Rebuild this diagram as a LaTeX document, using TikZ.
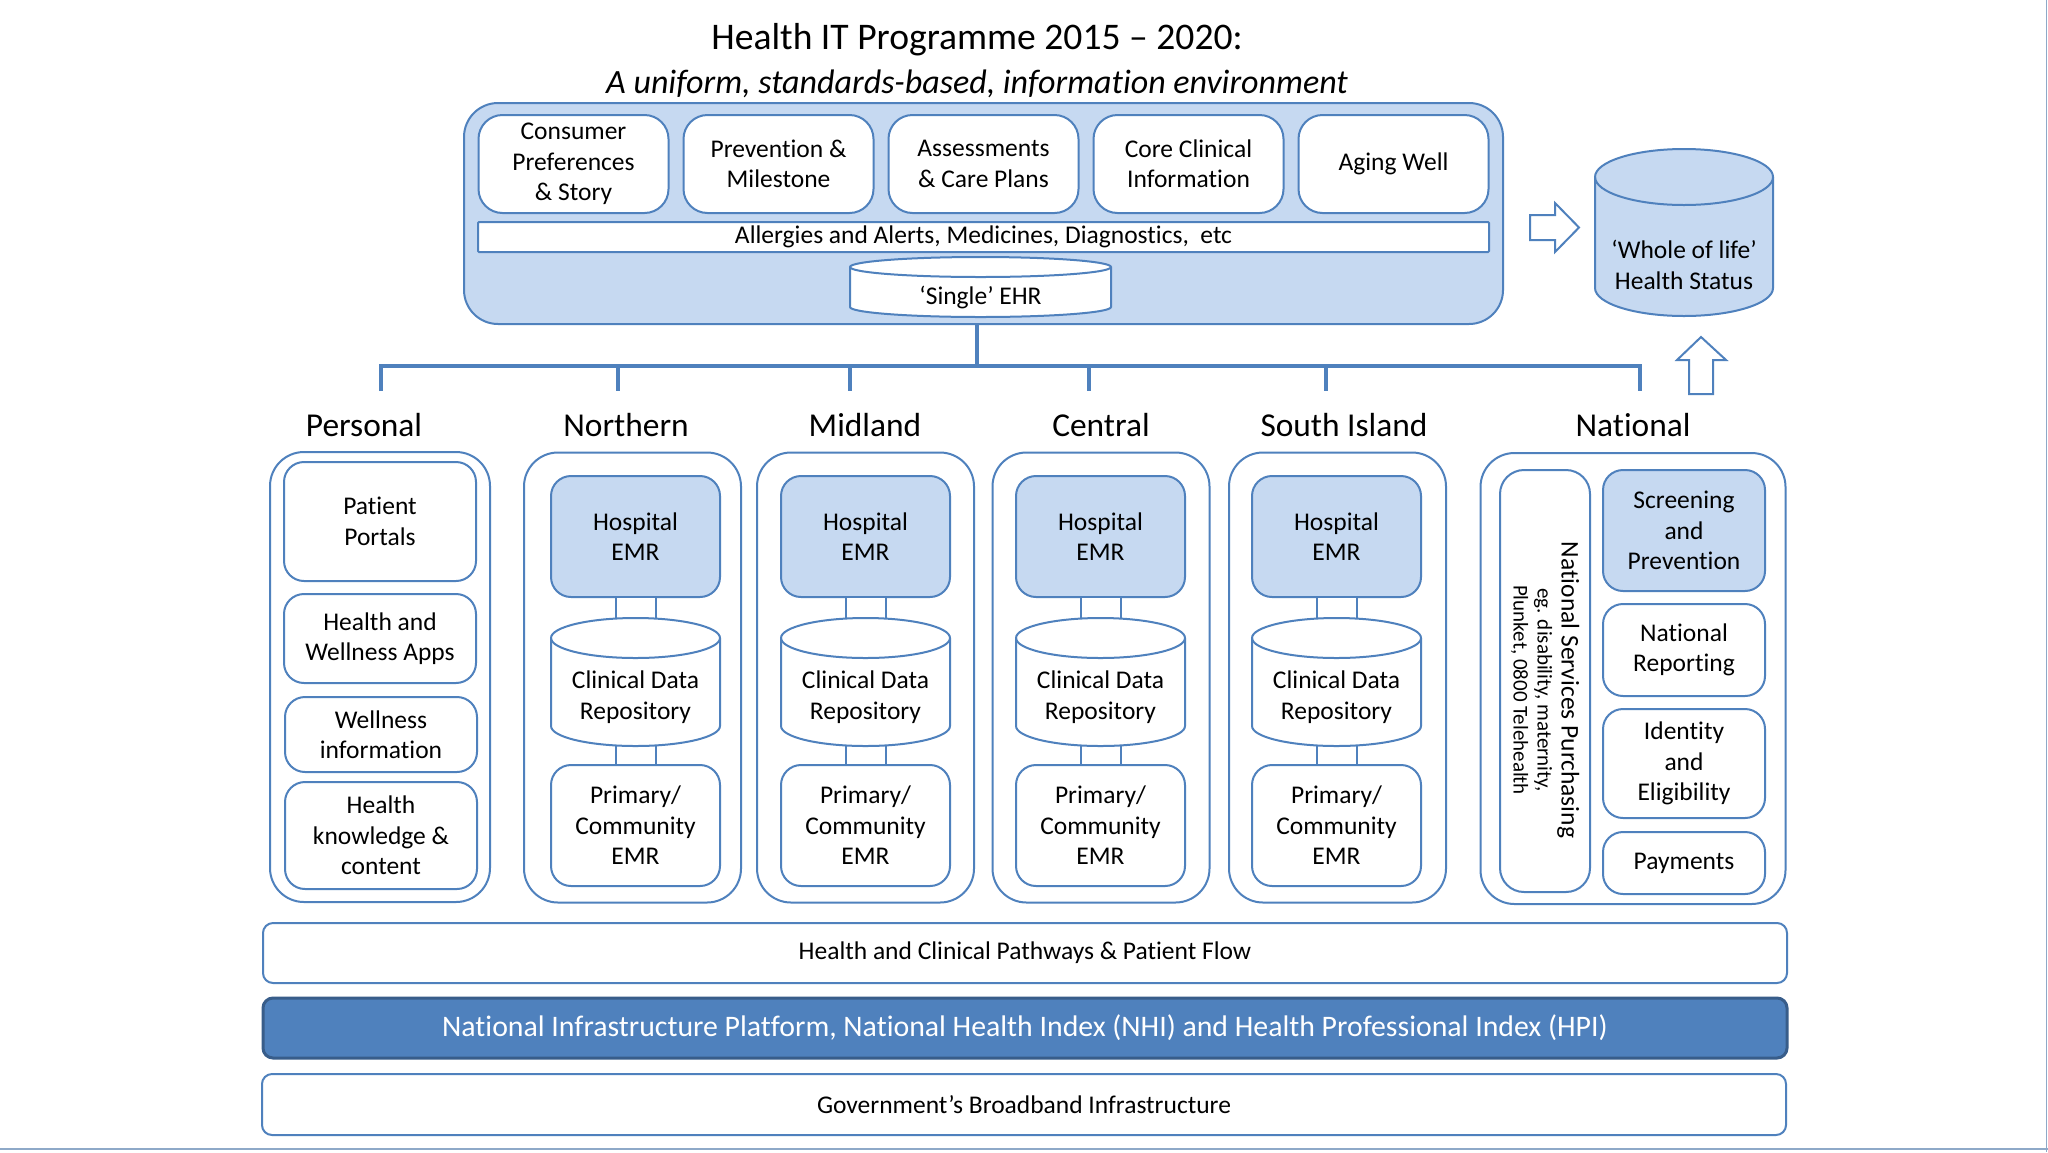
\documentclass[tikz,border=0pt]{standalone}
\usepackage{fontspec}
\setmainfont{Carlito}[Ligatures={NoCommon}]
\usetikzlibrary{calc}
\definecolor{bord}{HTML}{4F81BD}
\definecolor{lfill}{HTML}{C6D9F1}
\definecolor{nipfill}{HTML}{4F81BD}
\definecolor{nipbord}{HTML}{385D8A}
\definecolor{framec}{HTML}{8EA9C8}
\newcommand\fbody{\fontsize{12.75}{15.2}\selectfont}
\newcommand\fsmall{\fontsize{10.5}{12}\selectfont}
\newcommand\fhead{\fontsize{16.7}{20}\selectfont}
\newcommand\ftitle{\fontsize{18.8}{22}\selectfont}
\newcommand\fsub{\fontsize{17}{20}\selectfont}
\newcommand\fnip{\fontsize{14.9}{18}\selectfont}
\tikzset{
 base/.style={draw=bord, line width=1pt, inner sep=0pt, outer sep=0pt, align=center, font=\fbody, text=black},
 card/.style={base, fill=white, rounded corners=10pt},
 topcard/.style={base, fill=white, rounded corners=12pt, minimum width=95pt, minimum height=49pt},
 hcard/.style={base, fill=lfill, rounded corners=10pt},
 column/.style={base, fill=white, rounded corners=17pt},
 panel/.style={base, fill=lfill, rounded corners=17pt},
 strip/.style={base, fill=white, rounded corners=0.5pt},
 bar/.style={base, fill=white, rounded corners=5pt, minimum width=762pt, minimum height=30pt},
 nipbar/.style={base, draw=nipbord, line width=1.5pt, fill=nipfill, rounded corners=5pt, minimum width=762pt, minimum height=30pt, text=white, font=\fnip},
 slot/.style={inner sep=0pt, outer sep=0pt},
 lbl/.style={inner sep=0pt, align=center, font=\fbody},
 head/.style={inner sep=0pt, font=\fhead},
 tree/.style={draw=bord, line width=2pt, line join=miter},
 pipe/.style={draw=bord, line width=1pt, fill=white},
 blockarrow/.style={draw=bord, line width=1pt, fill=white, line join=miter},
}
\newcommand\drawcyl[4]{%
 \path[draw=bord, line width=1pt, fill=#4] ([yshift=-#3]#1.north west) -- ([yshift=#3]#1.south west) arc[start angle=180, end angle=360, x radius=#2, y radius=#3] -- ([yshift=-#3]#1.north east) arc[start angle=0, end angle=180, x radius=#2, y radius=#3] -- cycle;
 \draw[draw=bord, line width=1pt] ([yshift=-#3]#1.north west) arc[start angle=180, end angle=360, x radius=#2, y radius=#3];
}
\begin{document}
\begin{tikzpicture}[x=0.5pt,y=-0.5pt]
\useasboundingbox (0,0) rectangle (2048,1152);
\fill[white] (0,0) rectangle (2048,1152);
\draw[framec, line width=0.75pt] (0,1149) -- (2048,1149);
\draw[framec, line width=0.75pt] (2046.5,0) -- (2046.5,1152);

% titles
\node[inner sep=0pt, font=\ftitle] (title) at (977,40) {Health IT Programme 2015 – 2020:};
\node[inner sep=0pt, font=\fsub\itshape] (subtitle) at (977,84) {A uniform, standards-based, information environment};

% top panel
\node[panel, minimum width=519.5pt, minimum height=110.5pt] (panel) at (983.5,213.5) {};
\node[topcard] (consumer) at (573.5,164) {Consumer\\Preferences\\\& Story};
\node[topcard] (prevention) at (778.5,164) {Prevention \&\\Milestone};
\node[topcard] (assess) at (983.5,164) {Assessments\\\& Care Plans};
\node[topcard] (core) at (1188.5,164) {Core Clinical\\Information};
\node[topcard] (aging) at (1393.5,164) {Aging Well};
\node[strip, minimum width=505.5pt, minimum height=15pt] (allergy) at (983.5,237) {Allergies and Alerts, Medicines, Diagnostics, \ etc};
\node[slot, minimum width=130.5pt, minimum height=30pt] (ehr) at (980.5,287) {};
\drawcyl{ehr}{65.25pt}{5pt}{white}
\node[lbl] (ehrtxt) at (980.5,297) {‘Single’ EHR};

% whole of life
\node[slot, minimum width=89pt, minimum height=83.5pt] (whole) at (1684,232.5) {};
\drawcyl{whole}{44.5pt}{14pt}{lfill}
\node[lbl] (wholetxt) at (1684,265) {‘Whole of life’\\Health Status};

% block arrows
\draw[blockarrow] (1530,215) -- (1555,215) -- (1555,203) -- (1579,227.5) -- (1555,252) -- (1555,240) -- (1530,240) -- cycle;
\draw[blockarrow] (1689,394) -- (1689,360) -- (1677,360) -- (1701,337) -- (1726,360) -- (1713,360) -- (1713,394) -- cycle;

% tree
\coordinate (hub) at (977,366);
\coordinate (tl) at (381,366);
\coordinate (tr) at (1640,366);
\coordinate (d1) at (381,391);
\coordinate (d2) at (618,391);
\coordinate (d3) at (850,391);
\coordinate (d4) at (1089,391);
\coordinate (d5) at (1326,391);
\coordinate (d6) at (1640,391);
\draw[tree] (panel.south -| hub) -- (hub);
\draw[tree] (d1) -- (tl) -- (tr) -- (d6);
\draw[tree] (d2 |- tl) -- (d2);
\draw[tree] (d3 |- tl) -- (d3);
\draw[tree] (d4 |- tl) -- (d4);
\draw[tree] (d5 |- tl) -- (d5);

% personal
\node[head] (headP) at (364,425) {Personal};
\node[column, minimum width=110pt, minimum height=225pt] (colP) at (380,677) {};
\node[card, minimum width=96pt, minimum height=59.5pt] (portals) at (380,521.5) {Patient\\Portals};
\node[card, minimum width=96pt, minimum height=44.5pt] (apps) at (380,638.5) {Health and\\Wellness Apps};
\node[card, minimum width=96pt, minimum height=37.5pt] (winfo) at (381,734.5) {Wellness\\information};
\node[card, minimum width=96pt, minimum height=53.5pt] (know) at (381,835.5) {Health\\knowledge \&\\content};

% regions
\foreach \k/\ox/\ix/\hd/\hx in {N/632.5/635.5/Northern/626, M/865.5/865.5/Midland/865, C/1101/1100.5/Central/1101, S/1337.5/1336.5/South Island/1344}{
 \node[head] (head\k) at (\hx,425) {\hd};
 \node[column, minimum width=108.5pt, minimum height=225pt] (col\k) at (\ox,677.5) {};
 \node[hcard, minimum width=84.5pt, minimum height=60.5pt] (hosp\k) at (\ix,536.5) {Hospital\\EMR};
 \node[card, minimum width=84.5pt, minimum height=60.5pt] (prim\k) at (\ix,825.5) {Primary/\\Community\\EMR};
 \node[slot, minimum width=84.5pt, minimum height=64pt] (cdr\k) at (\ix,682) {};
 \draw[pipe] ([xshift=-10pt]hosp\k.south) rectangle ([xshift=10pt,yshift=-10pt]cdr\k.north);
 \draw[pipe] ([xshift=-10pt,yshift=10pt]cdr\k.south) rectangle ([xshift=10pt]prim\k.north);
 \drawcyl{cdr\k}{42.25pt}{10pt}{white}
 \node[lbl] (cdrtxt\k) at (\ix,697) {Clinical Data\\Repository};
}

% national
\node[head] (headNat) at (1633,425) {National};
\node[column, minimum width=152.5pt, minimum height=225.5pt] (colNat) at (1633,678.5) {};
\node[card, rounded corners=12pt, minimum width=45pt, minimum height=211pt] (nsp) at (1545,681) {};
\node[lbl, rotate=-90, font=\fsmall] (nsptxt) at (1545,690) {{\fbody National Services Purchasing}\\eg. disability, maternity,\\Plunket, 0800 Telehealth};
\node[hcard, minimum width=81pt, minimum height=60.5pt] (screen) at (1684,530.5) {Screening\\and\\Prevention};
\node[card, minimum width=81pt, minimum height=46pt] (nrep) at (1684,650) {National\\Reporting};
\node[card, minimum width=81pt, minimum height=54.5pt] (ident) at (1684,763.5) {Identity\\and\\Eligibility};
\node[card, minimum width=81pt, minimum height=31pt] (pay) at (1684,863) {Payments};

% bottom bars
\node[bar] (pathways) at (1025,953) {Health and Clinical Pathways \& Patient Flow};
\node[nipbar] (nip) at (1025,1028) {National Infrastructure Platform, National Health Index (NHI) and Health Professional Index (HPI)};
\node[bar, minimum height=30.5pt] (broadband) at (1024,1104.5) {Government’s Broadband Infrastructure};
\end{tikzpicture}
\end{document}
